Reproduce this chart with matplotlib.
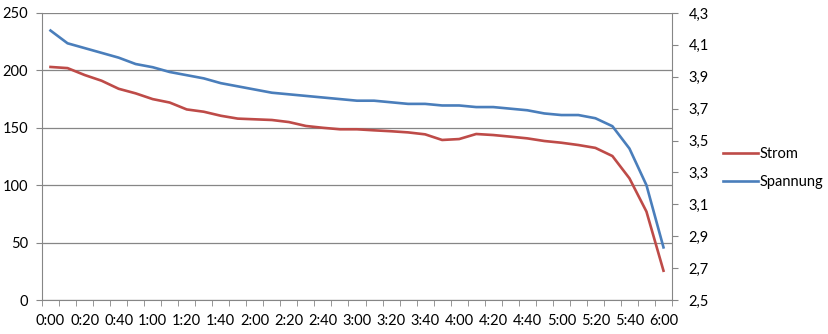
import matplotlib
matplotlib.use("Agg")
import matplotlib.pyplot as plt
import matplotlib.ticker as ticker

# time labels, every 10 minutes
zeiten = [f"{m // 60}:{m % 60:02d}" for m in range(0, 361, 10)]

strom = [203, 202, 196, 191, 184, 180, 175, 172, 166, 164, 160.5, 158, 157.4, 156.8,
         155, 151.6, 150, 148.7, 148.7, 147.8, 147, 146, 144.3, 139.4, 140.2, 144.6,
         143.7, 142.3, 140.8, 138.5, 137, 135, 132.5, 125.4, 106, 77, 25.5]
spannung = [4.19, 4.11, 4.08, 4.05, 4.02, 3.98, 3.96, 3.93, 3.91, 3.89, 3.86, 3.84,
            3.82, 3.80, 3.79, 3.78, 3.77, 3.76, 3.75, 3.75, 3.74, 3.73, 3.73, 3.72,
            3.72, 3.71, 3.71, 3.70, 3.69, 3.67, 3.66, 3.66, 3.64, 3.59, 3.45, 3.22, 2.83]

ROT = '#BE4B48'
BLAU = '#4A7EBB'
GRAU = '#868686'

plt.rcParams.update({
    'font.family': ['Lato', 'DejaVu Sans'],
    'font.size': 10.5,
    'text.color': '#000000',
    'xtick.color': GRAU,
    'ytick.color': GRAU,
    'xtick.labelcolor': '#000000',
    'ytick.labelcolor': '#000000',
})

fig = plt.figure(figsize=(8.29, 3.34), dpi=100)
ax = fig.add_axes([42 / 829, 1 - 300 / 334, 630 / 829, 287 / 334])
ax2 = ax.twinx()

x = list(range(len(zeiten)))
l1, = ax.plot(x, strom, color=ROT, linewidth=1.9, label='Strom')
l2, = ax2.plot(x, spannung, color=BLAU, linewidth=1.9, label='Spannung')

ax.set_xlim(-0.5, len(zeiten) - 0.5)
ax.set_ylim(0, 250)
ax.set_yticks(range(0, 251, 50))
ax2.set_ylim(2.5, 4.3)
ax2.set_yticks([2.5 + 0.2 * i for i in range(10)])
ax2.yaxis.set_major_formatter(ticker.FuncFormatter(lambda v, p: f"{v:.1f}".replace('.', ',')))

# labels every 20 minutes at category centres, tick marks between categories
ax.set_xticks(x[::2])
ax.set_xticklabels(zeiten[::2])
ax.tick_params(axis='x', which='major', length=0, pad=10)
ax.set_xticks([i - 0.5 for i in range(len(zeiten) + 1)], minor=True)
ax.tick_params(axis='x', which='minor', length=4, color=GRAU, direction='out')
ax.tick_params(axis='y', length=4, direction='out', pad=6)
ax2.tick_params(axis='y', length=4, direction='out', pad=8)

ax.grid(True, axis='y', color=GRAU, linewidth=0.9)
ax.set_axisbelow(True)

for a in (ax, ax2):
    for s in a.spines.values():
        s.set_visible(False)
    a.spines['left'].set_visible(a is ax)
    a.spines['right'].set_visible(a is ax2)
    a.spines['left'].set_color(GRAU)
    a.spines['right'].set_color(GRAU)
ax.spines['bottom'].set_visible(True)
ax.spines['bottom'].set_color(GRAU)

fig.legend(handles=[l1, l2], loc='center left', bbox_to_anchor=(717 / 829, 1 - 168 / 334),
           frameon=False, handlelength=2.4, handletextpad=0.15, labelspacing=1.0,
           borderaxespad=0, fontsize=10.5)

fig.savefig('out.png', dpi=100)
